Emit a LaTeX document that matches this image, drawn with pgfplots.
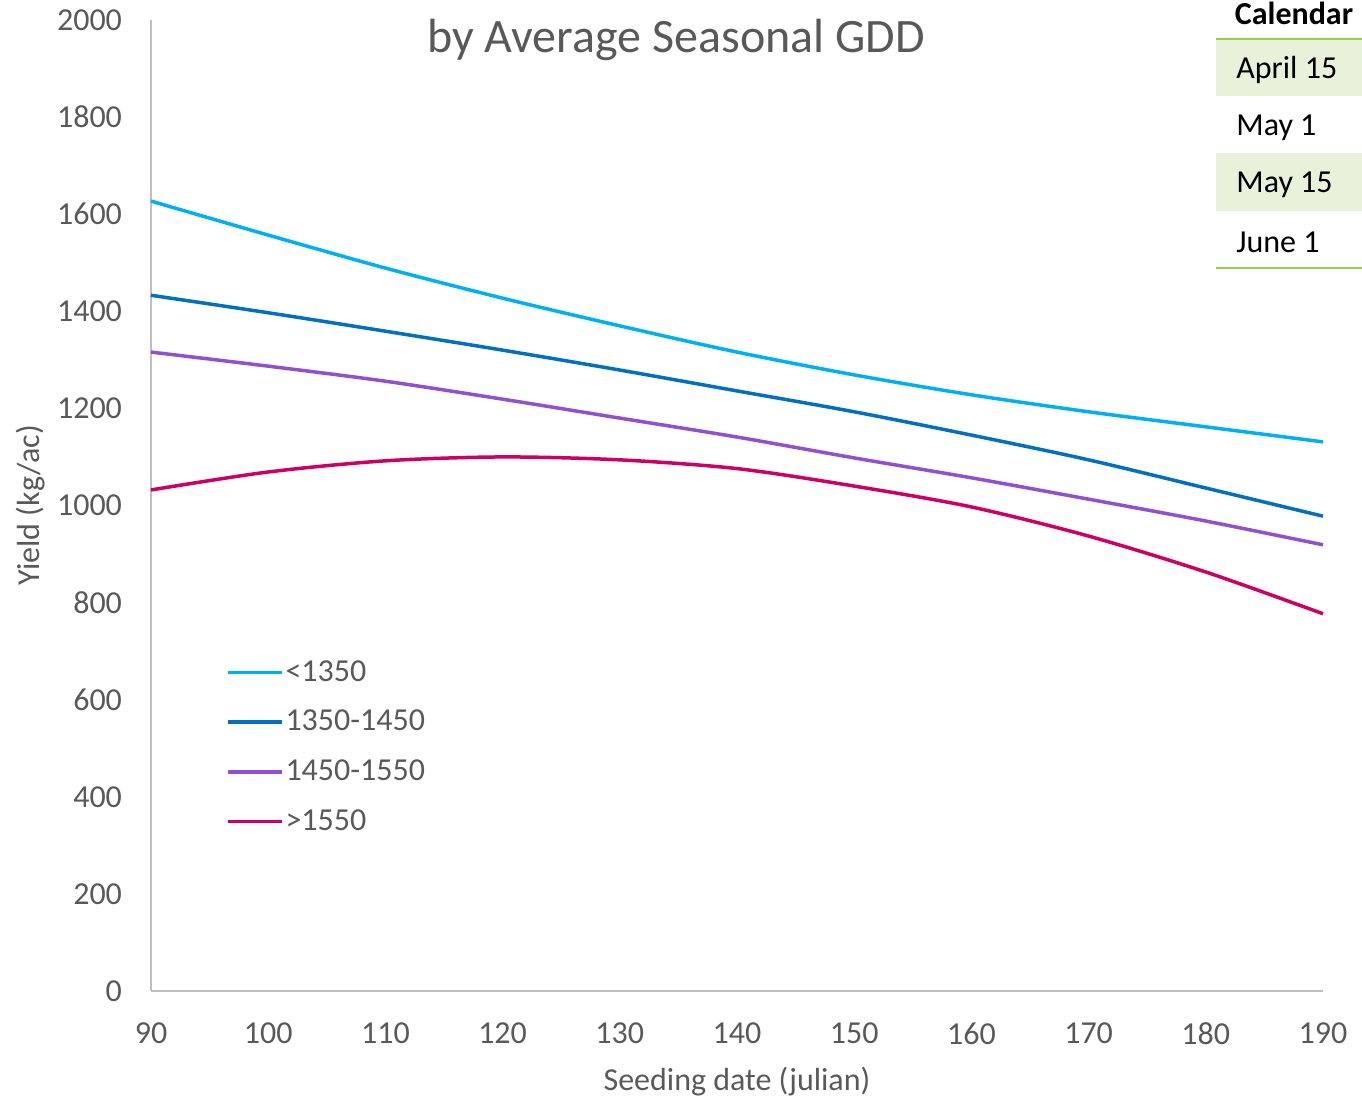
\documentclass[border=0pt]{standalone}
\usepackage{fontspec}
\setmainfont{Carlito}
\usepackage{pgfplots}
\pgfplotsset{compat=1.18}
\definecolor{cLow}{HTML}{00B0F0}
\definecolor{cMid}{HTML}{0070C0}
\definecolor{cHigh}{HTML}{9150CF}
\definecolor{cTop}{HTML}{CC0066}
\definecolor{txtgray}{HTML}{595959}
\definecolor{axgray}{HTML}{BFBFBF}
\definecolor{calline}{HTML}{92D050}
\definecolor{calfill}{HTML}{E8F2DA}
\begin{document}
\begin{tikzpicture}
\useasboundingbox (0,0) rectangle (681pt,548.5pt);
\begin{axis}[
  at={(75.5pt,53pt)}, anchor=south west,
  scale only axis, width=586pt, height=485.5pt,
  xmin=90, xmax=190, ymin=0, ymax=2000,
  xtick={90,100,...,190}, ytick={0,200,...,2000},
  axis lines=left, axis line style={-, axgray, line width=0.8pt},
  major tick length=0pt,
  tick label style={font=\fontsize{16}{19}\selectfont, text=txtgray},
  /pgf/number format/assume math mode=true,
  /pgf/number format/1000 sep={},
  yticklabel style={xshift=-11pt},
  xticklabel style={yshift=-12.5pt},
  xlabel={Seeding date (julian)}, ylabel={Yield (kg/ac)},
  label style={font=\fontsize{16}{19}\selectfont, text=txtgray},
  xlabel style={yshift=-4pt},
  ylabel style={yshift=-1pt},
  legend style={at={(rel axis cs:0.064,0.345)}, anchor=north west, draw=none, fill=none,
    font=\fontsize{16}{19}\selectfont, text=txtgray, row sep=9pt, inner sep=0pt,
    nodes={inner xsep=0.8pt}},
  legend cell align=left,
  legend image code/.code={\draw[#1, line width=1.75pt] (0pt,0pt) -- (27pt,0pt);},
  every axis plot/.append style={line width=1.75pt, smooth},
  clip=false
]
\addplot[cLow] coordinates {
  (90,1627)(100,1557)(110,1489)(120,1427)(130,1370)(140,1316)
  (150,1269)(160,1228)(170,1193)(180,1162)(190,1131)};
\addlegendentry{<1350}
\addplot[cMid] coordinates {
  (90,1433)(100,1397)(110,1359)(120,1320)(130,1279)(140,1236)
  (150,1193)(160,1145)(170,1094)(180,1036)(190,978)};
\addlegendentry{1350-1450}
\addplot[cHigh] coordinates {
  (90,1316)(100,1287)(110,1256)(120,1219)(130,1180)(140,1141)
  (150,1098)(160,1057)(170,1013)(180,968)(190,919)};
\addlegendentry{1450-1550}
\addplot[cTop] coordinates {
  (90,1032)(100,1069)(110,1092)(120,1100)(130,1094)(140,1076)
  (150,1040)(160,997)(170,937)(180,863)(190,777)};
\addlegendentry{>1550}
\end{axis}
\node[text=txtgray, font=\fontsize{24}{28}\selectfont] at (338pt,528.5pt) {by Average Seasonal GDD};
% calendar table
\fill[calfill] (608pt,500.5pt) rectangle (681pt,529pt);
\fill[calfill] (608pt,443pt) rectangle (681pt,472pt);
\draw[calline, line width=1.2pt] (608pt,529pt) -- (681pt,529pt);
\draw[calline, line width=1.2pt] (608pt,414.5pt) -- (681pt,414.5pt);
\begin{scope}[every node/.style={font=\fontsize{16}{19}\selectfont, anchor=west, inner sep=0pt}]
\node[font=\fontsize{16}{19}\selectfont\bfseries, anchor=center] at (647pt,542pt) {Calendar};
\node at (618pt,513.5pt) {April 15};
\node at (618pt,484.5pt) {May 1};
\node at (618pt,456pt) {May 15};
\node at (618pt,427.5pt) {June 1};
\end{scope}
\end{tikzpicture}
\end{document}
